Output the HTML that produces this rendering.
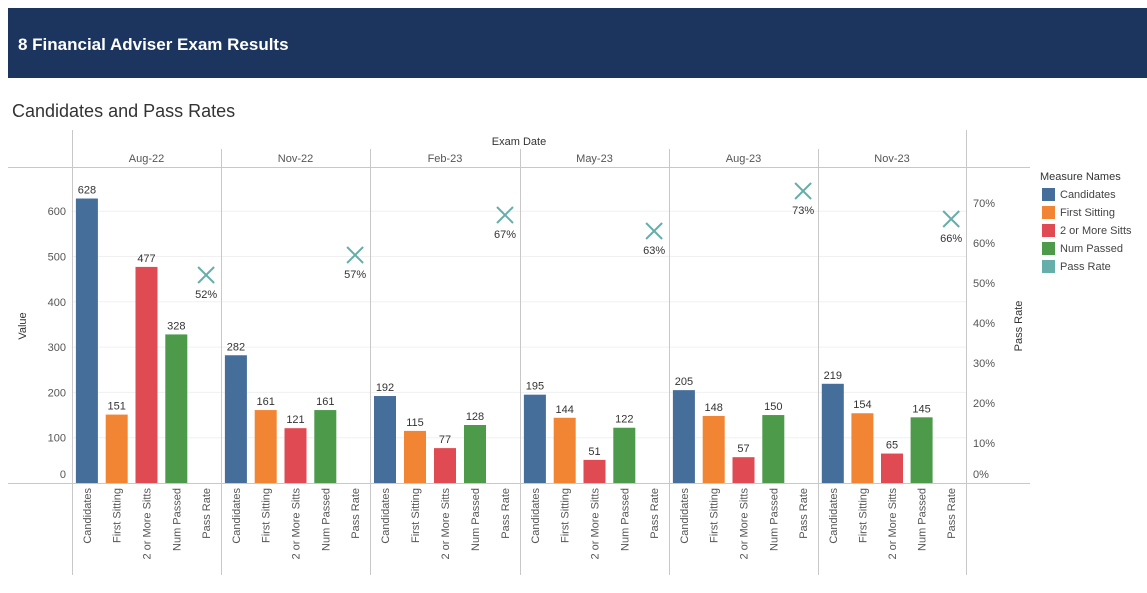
<!DOCTYPE html>
<html><head><meta charset="utf-8"><style>
body{margin:0;background:#fff;font-family:"Liberation Sans",sans-serif;}
svg text{font-family:"Liberation Sans",sans-serif;}
</style></head><body>
<svg width="1147" height="588" xmlns="http://www.w3.org/2000/svg">
<rect x="8" y="8" width="1139" height="70" fill="#1c355e"/>
<text x="18" y="50" fill="#fff" font-size="17" font-weight="bold">8 Financial Adviser Exam Results</text>
<text x="12" y="117" fill="#333" font-size="18">Candidates and Pass Rates</text>
<text x="519" y="145" fill="#333" font-size="11" text-anchor="middle">Exam Date</text>
<g id="grid"></g>
<g id="frame" stroke="#c8c8c8" stroke-width="1" fill="none">
<line x1="8" y1="167.5" x2="1030" y2="167.5"/>
<line x1="8" y1="483.5" x2="1030" y2="483.5"/>
<line x1="72.5" y1="130" x2="72.5" y2="575"/>
<line x1="966.5" y1="130" x2="966.5" y2="575"/>
</g>
<g id="marks"></g>
<text transform="translate(26,326) rotate(-90)" font-size="11" fill="#333" text-anchor="middle">Value</text>
<text transform="translate(1022,326) rotate(-90)" font-size="11" fill="#333" text-anchor="middle">Pass Rate</text>
<g id="legend">
<text x="1040" y="180" font-size="11" fill="#333">Measure Names</text>
</g>
</svg>
<script>
const dates=["Aug-22","Nov-22","Feb-23","May-23","Aug-23","Nov-23"];
const measures=["Candidates","First Sitting","2 or More Sitts","Num Passed","Pass Rate"];
const colors=["#456e9b","#f28534","#e04a52","#4d9a4b","#65aea9"];
const candidates=[628,282,192,195,205,219];
const firstSitting=[151,161,115,144,148,154];
const moreSitts=[477,121,77,51,57,65];
const numPassed=[328,161,128,122,150,145];
const passRate=[52,57,67,63,73,66];
const valueTicks=[0,100,200,300,400,500,600];
const pctTicks=[0,10,20,30,40,50,60,70];
const NS="http://www.w3.org/2000/svg";
const y0=483;
function yv(v){return y0-v*0.453;}
function yp(p){return y0-p*4.0;}
const panelX=[72,221,370,520,669,818,966];
function mk(tag,attrs,parent,txt){const e=document.createElementNS(NS,tag);for(const k in attrs)e.setAttribute(k,attrs[k]);if(txt!==undefined)e.textContent=txt;parent.appendChild(e);return e;}
const svg=document.querySelector('svg'),marks=document.getElementById('marks'),grid=document.getElementById('grid'),frame=document.getElementById('frame'),legend=document.getElementById('legend');
valueTicks.forEach(v=>{
  if(v>0){const l=mk('line',{x1:72,x2:966,y1:yv(v),y2:yv(v),stroke:'#f0f0f0'},grid);
  
  }
  const t=mk('text',{x:66,y:v===0?478:yv(v)+4,'font-size':11,fill:'#555','text-anchor':'end'},svg,String(v));
  
  
});
pctTicks.forEach(p=>{
  const t=mk('text',{x:973,y:p===0?478:yp(p)+4,'font-size':11,fill:'#555'},svg,p+'%');
  
  
});
const series=[candidates,firstSitting,moreSitts,numPassed];
dates.forEach((d,i)=>{
  const px=panelX[i],w=panelX[i+1]-px;
  if(i>0){const l=mk('line',{x1:px+0.5,x2:px+0.5,y1:149,y2:575,stroke:'#c8c8c8'},frame);
  
  }
  const h=mk('text',{x:px+w/2,y:162,'font-size':11,fill:'#555','text-anchor':'middle'},svg,d);
  
  
  const slot=w/5;
  series.forEach((s,j)=>{
    const cx=px+slot*(j+0.5);
    const r=mk('rect',{x:cx-11,y:yv(s[i]),width:22,height:y0-yv(s[i]),fill:colors[j]},marks);
    
    
    const t=mk('text',{x:cx,y:yv(s[i])-5,'font-size':11,fill:'#333','text-anchor':'middle'},marks,String(s[i]));
    
    
  });
  const cx=px+slot*4.5,cy=yp(passRate[i]);
  const g=mk('g',{stroke:colors[4],'stroke-width':2},marks);
  
  
  mk('line',{x1:cx-8,y1:cy-8,x2:cx+8,y2:cy+8},g);
  mk('line',{x1:cx-8,y1:cy+8,x2:cx+8,y2:cy-8},g);
  const pt=mk('text',{x:cx,y:cy+23,'font-size':11,fill:'#333','text-anchor':'middle'},marks,passRate[i]+'%');
  
  
  measures.forEach((m,j)=>{
    const x=px+slot*(j+0.5)+4;
    const t=mk('text',{transform:`translate(${x},488) rotate(-90)`,'font-size':11,fill:'#555','text-anchor':'end'},svg,m);
    
    
  });
});
measures.forEach((m,j)=>{
  const r=mk('rect',{x:1042,y:188+j*18,width:13,height:13,fill:colors[j]},legend);
  
  
  const t=mk('text',{x:1060,y:198+j*18,'font-size':11,fill:'#444'},legend,m);
  
  
});
</script>
</body></html>
